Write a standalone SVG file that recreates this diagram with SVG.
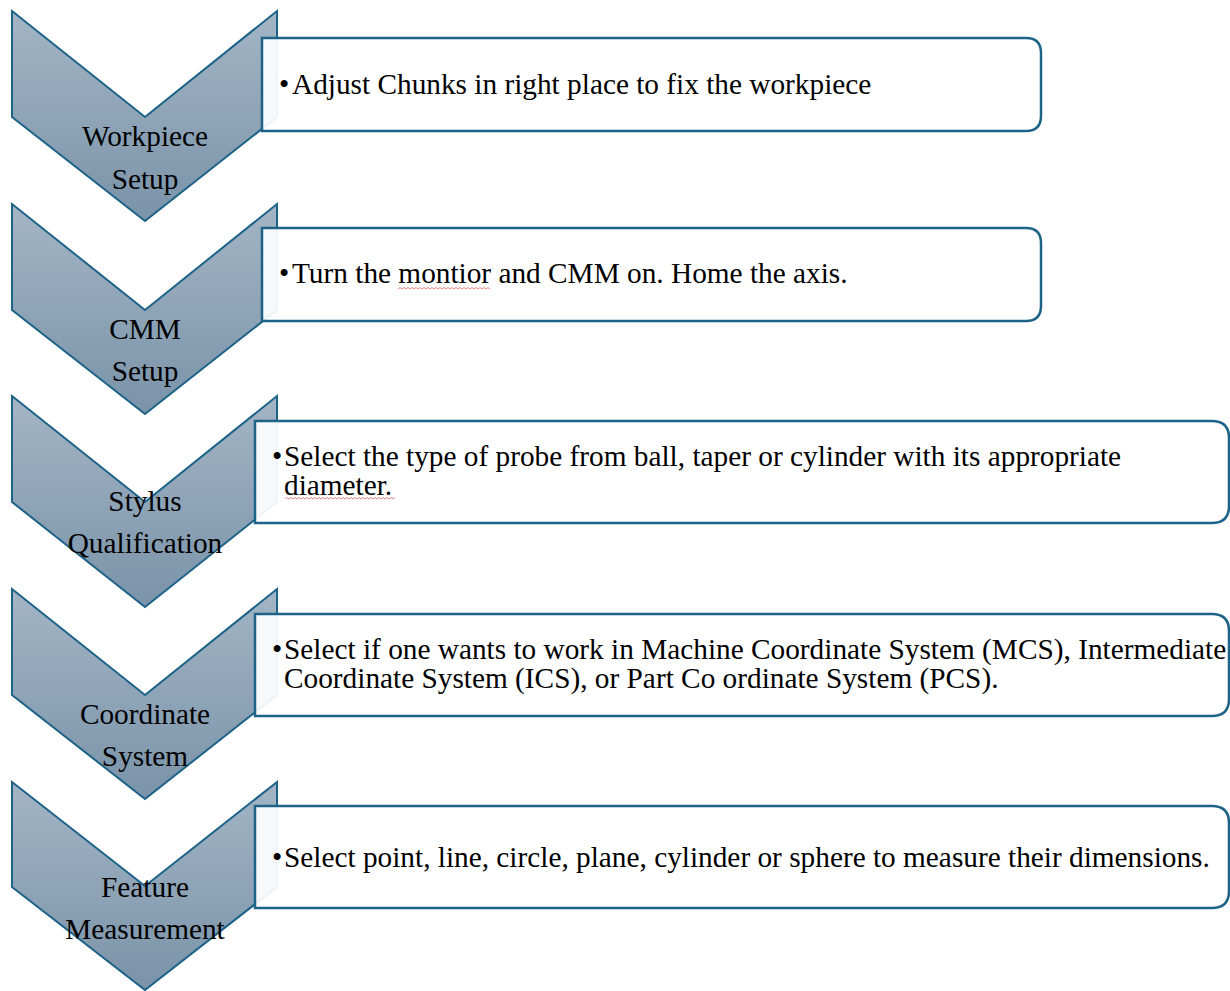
<svg xmlns="http://www.w3.org/2000/svg" width="1230" height="991" viewBox="0 0 1230 991">
  <defs>
    <linearGradient id="chevFill" x1="0" y1="0" x2="0" y2="1">
      <stop offset="0" stop-color="#A3B5C5"/>
      <stop offset="1" stop-color="#7A93A9"/>
    </linearGradient>
  </defs>
  <style>
    .chev { fill: url(#chevFill); stroke: #1D6387; stroke-width: 2; stroke-linejoin: miter; }
    .box { fill: #FFFFFF; fill-opacity: 0.92; stroke: #1D6387; stroke-width: 2.5; }
    .lbl { font-family: "Liberation Serif", "Times New Roman", serif; font-size: 29.3px; fill: #000; text-anchor: middle; }
    .txt { font-family: "Liberation Serif", "Times New Roman", serif; font-size: 29.3px; fill: #000; }
    .squig { fill: none; stroke: #E06060; stroke-width: 1; stroke-opacity: 0.75; }
  </style>

  <!-- Step 1 -->
  <g id="step1">
    <path class="chev" d="M12,11 L145,117 L277,11 L277,117 L145,221 L12,117 Z"/>
    <path class="box" d="M262,38 H1026 Q1041,38 1041,53 V116 Q1041,131 1026,131 H262 Z"/>
    <text class="lbl" x="145" y="146">Workpiece</text>
    <text class="lbl" x="145" y="189">Setup</text>
    <text class="txt" y="94"><tspan x="279">•</tspan><tspan x="292">Adjust Chunks in right place to fix the workpiece</tspan></text>
  </g>

  <!-- Step 2 -->
  <g id="step2">
    <path class="chev" d="M12,204 L145,310 L277,204 L277,310 L145,414 L12,310 Z"/>
    <path class="box" d="M262,228 H1026 Q1041,228 1041,243 V306 Q1041,321 1026,321 H262 Z"/>
    <text class="lbl" x="145" y="339">CMM</text>
    <text class="lbl" x="145" y="381">Setup</text>
    <text class="txt" y="283"><tspan x="279">•</tspan><tspan x="292">Turn the montior and CMM on. Home the axis.</tspan></text>
    <path class="squig" d="M398,289 l2,-1.5 l2,1.5 l2,-1.5 l2,1.5 l2,-1.5 l2,1.5 l2,-1.5 l2,1.5 l2,-1.5 l2,1.5 l2,-1.5 l2,1.5 l2,-1.5 l2,1.5 l2,-1.5 l2,1.5 l2,-1.5 l2,1.5 l2,-1.5 l2,1.5 l2,-1.5 l2,1.5 l2,-1.5 l2,1.5 l2,-1.5 l2,1.5 l2,-1.5 l2,1.5 l2,-1.5 l2,1.5 l2,-1.5 l2,1.5 l2,-1.5 l2,1.5 l2,-1.5 l2,1.5 l2,-1.5 l2,1.5 l2,-1.5 l2,1.5 l2,-1.5 l2,1.5 l2,-1.5 l2,1.5 l2,-1.5 l2,1.5"/>
  </g>

  <!-- Step 3 -->
  <g id="step3">
    <path class="chev" d="M12,396 L145,502 L277,396 L277,502 L145,607 L12,502 Z"/>
    <path class="box" d="M255,421 H1212 Q1229,421 1229,438 V506 Q1229,523 1212,523 H255 Z"/>
    <text class="lbl" x="145" y="511">Stylus</text>
    <text class="lbl" x="145" y="553">Qualification</text>
    <text class="txt" y="466"><tspan x="272">•</tspan><tspan x="284">Select the type of probe from ball, taper or cylinder with its appropriate</tspan><tspan x="284" y="495">diameter.</tspan></text>
    <path class="squig" d="M285,499 l2,-1.5 l2,1.5 l2,-1.5 l2,1.5 l2,-1.5 l2,1.5 l2,-1.5 l2,1.5 l2,-1.5 l2,1.5 l2,-1.5 l2,1.5 l2,-1.5 l2,1.5 l2,-1.5 l2,1.5 l2,-1.5 l2,1.5 l2,-1.5 l2,1.5 l2,-1.5 l2,1.5 l2,-1.5 l2,1.5 l2,-1.5 l2,1.5 l2,-1.5 l2,1.5 l2,-1.5 l2,1.5 l2,-1.5 l2,1.5 l2,-1.5 l2,1.5 l2,-1.5 l2,1.5 l2,-1.5 l2,1.5 l2,-1.5 l2,1.5 l2,-1.5 l2,1.5 l2,-1.5 l2,1.5 l2,-1.5 l2,1.5 l2,-1.5 l2,1.5 l2,-1.5 l2,1.5 l2,-1.5 l2,1.5 l2,-1.5 l2,1.5 l2,-1.5"/>
  </g>

  <!-- Step 4 -->
  <g id="step4">
    <path class="chev" d="M12,589 L145,695 L277,589 L277,695 L145,799 L12,695 Z"/>
    <path class="box" d="M255,614 H1212 Q1229,614 1229,631 V699 Q1229,716 1212,716 H255 Z"/>
    <text class="lbl" x="145" y="724">Coordinate</text>
    <text class="lbl" x="145" y="766">System</text>
    <text class="txt" y="659"><tspan x="272">•</tspan><tspan x="284">Select if one wants to work in Machine Coordinate System (MCS), Intermediate</tspan><tspan x="284" y="688">Coordinate System (ICS), or Part Co ordinate System (PCS).</tspan></text>
  </g>

  <!-- Step 5 -->
  <g id="step5">
    <path class="chev" d="M12,782 L145,886 L277,782 L277,887 L145,990 L12,887 Z"/>
    <path class="box" d="M255,806 H1212 Q1229,806 1229,823 V891 Q1229,908 1212,908 H255 Z"/>
    <text class="lbl" x="145" y="897">Feature</text>
    <text class="lbl" x="145" y="939">Measurement</text>
    <text class="txt" y="867"><tspan x="272">•</tspan><tspan x="284">Select point, line, circle, plane, cylinder or sphere to measure their dimensions.</tspan></text>
  </g>

  <g id="connectors"/>
</svg>
